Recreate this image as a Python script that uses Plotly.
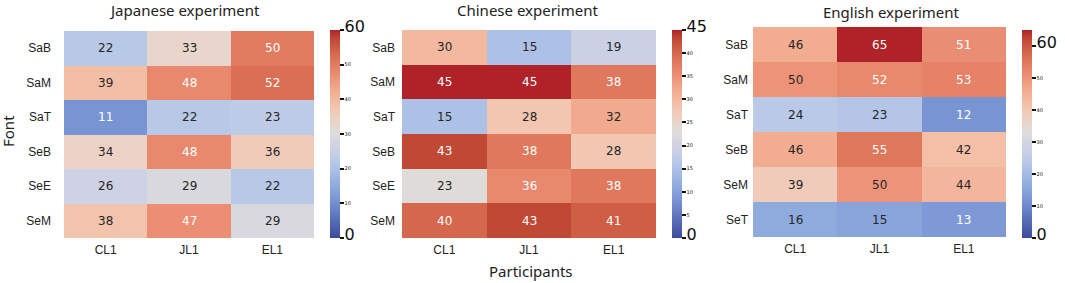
import plotly.graph_objects as go

participants = ["CL1", "JL1", "EL1"]

jp_fonts = ["SaB", "SaM", "SaT", "SeB", "SeE", "SeM"]
jp_values = [[22, 33, 50], [39, 48, 52], [11, 22, 23], [34, 48, 36], [26, 29, 22], [38, 47, 29]]

cn_fonts = ["SaB", "SaM", "SaT", "SeB", "SeE", "SeM"]
cn_values = [[30, 15, 19], [45, 45, 38], [15, 28, 32], [43, 38, 28], [23, 36, 38], [40, 43, 41]]

en_fonts = ["SaB", "SaM", "SaT", "SeB", "SeM", "SeT"]
en_values = [[46, 65, 51], [50, 52, 53], [24, 23, 12], [46, 55, 42], [39, 50, 44], [16, 15, 13]]

titles = ["Japanese experiment", "Chinese experiment", "English experiment"]
zmaxes = [60, 45, 65]
cb_ticks = [[0, 10, 20, 30, 40, 50, 60], [0, 5, 10, 15, 20, 25, 30, 35, 40, 45], [0, 10, 20, 30, 40, 50, 60]]
cb_big = [[0, 60], [0, 45], [0, 60]]

# matplotlib coolwarm (Moreland) control points
cw = [(59,76,192),(68,90,204),(77,104,215),(87,117,225),(98,130,234),(108,142,241),(119,154,247),
      (130,165,251),(141,176,254),(152,185,255),(163,194,255),(174,201,253),(184,208,249),(194,213,244),
      (204,217,238),(213,219,230),(221,221,221),(229,216,209),(236,211,197),(241,204,185),(245,196,173),
      (247,187,160),(247,177,148),(247,166,135),(244,154,123),(241,141,111),(236,127,99),(229,112,88),
      (222,96,77),(213,80,66),(203,62,56),(192,40,47),(180,4,38)]
n = len(cw) - 1


def muted(c, t):
    r, g, b = c
    if b > r:
        b = b - 0.28 * (b - r)
        g = g * 0.97
        r = r + 3
    else:
        gray = 0.299 * r + 0.587 * g + 0.114 * b
        r, g, b = (x + 0.08 * (gray - x) for x in (r, g, b))
        g = g + 25 * max(0.0, (t - 0.8) / 0.2)
        r = r + 5 * max(0.0, (t - 0.8) / 0.2)
    return (r, g, b)


cw_m = [muted(c, i / n) for i, c in enumerate(cw)]
colorscale = [[i / n, "rgb(%d,%d,%d)" % tuple(round(v) for v in c)] for i, c in enumerate(cw_m)]


def cw_color(t):
    t = min(max(t, 0.0), 1.0) * n
    i = min(int(t), n - 1)
    f = t - i
    return tuple(cw[i][k] + (cw[i + 1][k] - cw[i][k]) * f for k in range(3))


def lum(rgb):
    out = []
    for c in rgb:
        c = c / 255
        out.append(c / 12.92 if c <= 0.03928 else ((c + 0.055) / 1.055) ** 2.4)
    return 0.2126 * out[0] + 0.7152 * out[1] + 0.0722 * out[2]


W, H = 1065, 283
x_domains = [[64 / W, 314 / W], [402 / W, 656 / W], [753 / W, 1006 / W]]
y_domains = [[1 - 238 / H, 1 - 31 / H], [1 - 238 / H, 1 - 30 / H], [1 - 237 / H, 1 - 27 / H]]
cb_x = [330 / W, 672 / W, 1022 / W]
label_standoff = [12, 6, 4]

fig = go.Figure()
panels = [(jp_fonts, jp_values), (cn_fonts, cn_values), (en_fonts, en_values)]
annotations = []
for p, (fonts, vals) in enumerate(panels):
    xa = "x" if p == 0 else "x%d" % (p + 1)
    ya = "y" if p == 0 else "y%d" % (p + 1)
    ticktext = []
    for v in cb_ticks[p]:
        if v in cb_big[p]:
            ticktext.append("<span style='font-size:16px'>%d</span>" % v)
        else:
            ticktext.append(str(v))
    fig.add_trace(go.Heatmap(
        z=vals, x=participants, y=fonts, xaxis=xa, yaxis=ya,
        zmin=0, zmax=zmaxes[p], colorscale=colorscale, showscale=True,
        colorbar=dict(x=cb_x[p], xanchor="left", xpad=0, ypad=0, thickness=10,
                      lenmode="pixels", len=208, y=1 - 134 / H, yanchor="middle",
                      outlinewidth=0, tickmode="array", tickvals=cb_ticks[p], ticktext=ticktext,
                      ticks="outside", ticklen=4, tickwidth=2, tickcolor="#111",
                      tickfont=dict(size=5, color="#111", family="DejaVu Sans")),
        hoverinfo="skip",
    ))
    for r, f in enumerate(fonts):
        for c, part in enumerate(participants):
            v = vals[r][c]
            col = "white" if lum(cw_color(v / zmaxes[p])) < 0.4 else "#262626"
            annotations.append(dict(x=part, y=f, xref=xa, yref=ya, text=str(v), showarrow=False,
                                    font=dict(size=12, color=col, family="DejaVu Sans")))
    axis_common = dict(showgrid=False, zeroline=False, showline=False, ticks="",
                       tickfont=dict(size=12, color="#222", family="Liberation Sans"))
    fig.layout[("xaxis" if p == 0 else "xaxis%d" % (p + 1))] = dict(
        domain=x_domains[p], anchor=ya, **axis_common, ticklabelstandoff=3)
    fig.layout[("yaxis" if p == 0 else "yaxis%d" % (p + 1))] = dict(
        domain=y_domains[p], anchor=xa, autorange="reversed", **axis_common,
        ticklabelstandoff=label_standoff[p])

title_pos = [(184, 10), (527, 10), (891, 12)]
for p, t in enumerate(titles):
    annotations.append(dict(x=title_pos[p][0] / W, y=1 - title_pos[p][1] / H, xref="paper", yref="paper",
                            text=t, showarrow=False, xanchor="center", yanchor="middle",
                            font=dict(size=15, color="#222", family="Noto Sans")))
annotations.append(dict(x=8 / W, y=1 - 131 / H, xref="paper", yref="paper", text="Font", textangle=-90,
                        showarrow=False, xanchor="center", yanchor="middle",
                        font=dict(size=15, color="#222", family="Noto Sans")))
annotations.append(dict(x=531 / W, y=1 - 271 / H, xref="paper", yref="paper", text="Participants",
                        showarrow=False, xanchor="center", yanchor="middle",
                        font=dict(size=15, color="#222", family="Noto Sans")))

fig.update_layout(width=W, height=H, margin=dict(l=0, r=0, t=0, b=0, autoexpand=False),
                  paper_bgcolor="white", plot_bgcolor="white", annotations=annotations)
fig.write_html("out.html", config={"displayModeBar": False, "staticPlot": True},
               post_script=("document.body.style.margin='0';document.body.style.overflow='hidden';"
                            "document.documentElement.style.overflow='hidden';"))
